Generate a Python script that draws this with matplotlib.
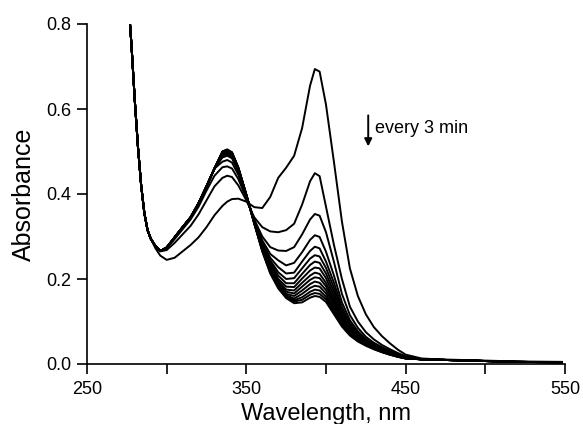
import matplotlib
matplotlib.use("Agg")
from matplotlib import pyplot as plt

plt.rcParams['font.family'] = ['Liberation Sans', 'DejaVu Sans']

# wavelength grid (nm)
wavelength = [277, 278, 280, 282, 284, 286, 288, 290,
              293, 296, 300, 305, 310, 315, 320, 325, 330,
              335, 338, 341, 345, 350,
              355, 360, 365, 370, 375, 380, 385, 390, 393, 396, 400, 405,
              410, 415, 420, 425, 430, 435, 440, 445, 450,
              460, 470, 480, 500, 520, 548]

# steep UV edge, same for every spectrum (277-290 nm)
uv_edge = [0.80, 0.745, 0.62, 0.51, 0.42, 0.355, 0.315, 0.295]

# 293-330 nm, shared by the later spectra
bundle_left = [0.277, 0.266, 0.274, 0.298, 0.322, 0.345, 0.378, 0.418, 0.46]

# 460-548 nm tail
tail = [0.011, 0.010, 0.009, 0.007, 0.005, 0.004]
tail_0 = [0.013, 0.011, 0.010, 0.008, 0.006, 0.005]

# t = 0 (293-450 nm)
spec_0 = [0.272, 0.255, 0.245, 0.25, 0.265, 0.28, 0.298, 0.322, 0.35,
          0.372, 0.382, 0.388, 0.389, 0.382,
          0.369, 0.367, 0.393, 0.438, 0.462, 0.49, 0.555, 0.655, 0.694, 0.688,
          0.61, 0.475, 0.335, 0.225, 0.16, 0.117, 0.087, 0.066, 0.049, 0.034, 0.022]
spec_1 = [0.276, 0.265, 0.268, 0.285, 0.305, 0.325, 0.352, 0.385, 0.418,
          0.438, 0.443, 0.44, 0.42, 0.385,
          0.345, 0.322, 0.312, 0.31, 0.315, 0.33, 0.375, 0.43, 0.449, 0.442,
          0.37, 0.28, 0.2, 0.135, 0.1, 0.075, 0.058, 0.045, 0.035, 0.026, 0.018]
spec_2 = [0.277, 0.266, 0.272, 0.294, 0.317, 0.34, 0.37, 0.408, 0.443,
          0.463, 0.465, 0.46, 0.435, 0.39,
          0.34, 0.30, 0.275, 0.267, 0.266, 0.275, 0.305, 0.34, 0.353, 0.349,
          0.31, 0.24, 0.165, 0.115, 0.085, 0.064, 0.05, 0.04, 0.031, 0.023, 0.016]

# later spectra, 335-450 nm
spec_3 = [0.476, 0.48, 0.474, 0.445, 0.392,
          0.337, 0.291, 0.259, 0.244, 0.232, 0.238, 0.263, 0.292, 0.303, 0.299,
          0.264, 0.208, 0.145, 0.103, 0.077, 0.059, 0.046, 0.037, 0.029, 0.021, 0.015]
spec_4 = [0.486, 0.49, 0.484, 0.452, 0.395,
          0.336, 0.286, 0.25, 0.228, 0.213, 0.215, 0.241, 0.266, 0.276, 0.272,
          0.241, 0.191, 0.134, 0.096, 0.072, 0.056, 0.044, 0.035, 0.027, 0.021, 0.015]
spec_5 = [0.49, 0.494, 0.488, 0.455, 0.396,
          0.335, 0.283, 0.244, 0.216, 0.2, 0.202, 0.225, 0.248, 0.256, 0.253,
          0.226, 0.179, 0.127, 0.091, 0.069, 0.054, 0.043, 0.034, 0.027, 0.02, 0.015]
spec_6 = [0.493, 0.497, 0.491, 0.457, 0.397,
          0.334, 0.28, 0.239, 0.208, 0.19, 0.19, 0.212, 0.233, 0.241, 0.238,
          0.213, 0.169, 0.12, 0.087, 0.066, 0.052, 0.041, 0.033, 0.026, 0.02, 0.014]
spec_7 = [0.495, 0.499, 0.493, 0.458, 0.397,
          0.333, 0.277, 0.235, 0.2, 0.182, 0.181, 0.201, 0.22, 0.227, 0.225,
          0.202, 0.16, 0.115, 0.084, 0.064, 0.05, 0.04, 0.032, 0.025, 0.019, 0.014]
spec_8 = [0.496, 0.5, 0.494, 0.459, 0.398,
          0.333, 0.275, 0.231, 0.195, 0.175, 0.173, 0.191, 0.208, 0.215, 0.212,
          0.191, 0.152, 0.11, 0.081, 0.062, 0.049, 0.039, 0.031, 0.025, 0.019, 0.014]
spec_9 = [0.497, 0.501, 0.495, 0.46, 0.398,
          0.332, 0.273, 0.227, 0.191, 0.17, 0.166, 0.182, 0.198, 0.204, 0.202,
          0.183, 0.145, 0.106, 0.078, 0.06, 0.048, 0.038, 0.031, 0.024, 0.018, 0.014]
spec_10 = [0.498, 0.502, 0.496, 0.46, 0.398,
           0.332, 0.271, 0.224, 0.188, 0.165, 0.16, 0.173, 0.188, 0.194, 0.191,
           0.174, 0.139, 0.102, 0.075, 0.059, 0.047, 0.038, 0.03, 0.024, 0.018, 0.014]
spec_11 = [0.499, 0.503, 0.497, 0.461, 0.398,
           0.331, 0.269, 0.221, 0.185, 0.162, 0.154, 0.165, 0.179, 0.184, 0.182,
           0.166, 0.132, 0.098, 0.073, 0.057, 0.046, 0.037, 0.029, 0.023, 0.018, 0.013]
spec_12 = [0.499, 0.504, 0.497, 0.461, 0.398,
           0.331, 0.268, 0.218, 0.183, 0.16, 0.15, 0.157, 0.17, 0.175, 0.173,
           0.158, 0.127, 0.094, 0.071, 0.055, 0.045, 0.036, 0.029, 0.023, 0.017, 0.013]
spec_13 = [0.5, 0.504, 0.498, 0.462, 0.398,
           0.33, 0.266, 0.215, 0.181, 0.157, 0.147, 0.151, 0.163, 0.167, 0.165,
           0.152, 0.121, 0.091, 0.069, 0.054, 0.044, 0.035, 0.028, 0.022, 0.017, 0.013]
spec_14 = [0.5, 0.505, 0.498, 0.462, 0.398,
           0.33, 0.265, 0.213, 0.178, 0.155, 0.143, 0.145, 0.156, 0.16, 0.158,
           0.146, 0.117, 0.088, 0.067, 0.053, 0.043, 0.035, 0.028, 0.022, 0.017, 0.013]

spectra = [uv_edge + spec_0 + tail_0,
           uv_edge + spec_1 + tail,
           uv_edge + spec_2 + tail]
for s in [spec_3, spec_4, spec_5, spec_6, spec_7, spec_8, spec_9,
          spec_10, spec_11, spec_12, spec_13, spec_14]:
    spectra.append(uv_edge + bundle_left + s + tail)

fig = plt.figure(figsize=(5.83, 4.24), dpi=100)
ax = fig.add_axes([87 / 583, 60 / 424, 478 / 583, 340 / 424])

for ys in spectra:
    ax.plot(wavelength, ys, color="black", lw=1.4, solid_joinstyle="round")

ax.set_xlim(250, 550)
ax.set_ylim(0, 0.8)
ax.set_xticks([250, 300, 350, 400, 450, 500, 550])
ax.set_xticklabels(["250", "", "350", "", "450", "", "550"])
ax.set_yticks([0.0, 0.2, 0.4, 0.6, 0.8])
ax.set_yticklabels(["0.0", "0.2", "0.4", "0.6", "0.8"])

for side in ["top", "right"]:
    ax.spines[side].set_visible(False)
for side in ["left", "bottom"]:
    ax.spines[side].set_linewidth(1.2)
ax.tick_params(direction="out", length=7, width=1.2, labelsize=13, pad=4)
ax.tick_params(axis="x", pad=5)

ax.set_xlabel("Wavelength, nm", fontsize=17, labelpad=4)
ax.set_ylabel("Absorbance", fontsize=18, labelpad=8)

ax.annotate("", xy=(426.5, 0.512), xytext=(426.5, 0.585),
            arrowprops=dict(arrowstyle="-|>", color="black", lw=1.4,
                            mutation_scale=11, shrinkA=0, shrinkB=0))
ax.text(431, 0.553, "every 3 min", fontsize=13, va="center", ha="left")

plt.savefig("out.png", dpi=100)
plt.close()
